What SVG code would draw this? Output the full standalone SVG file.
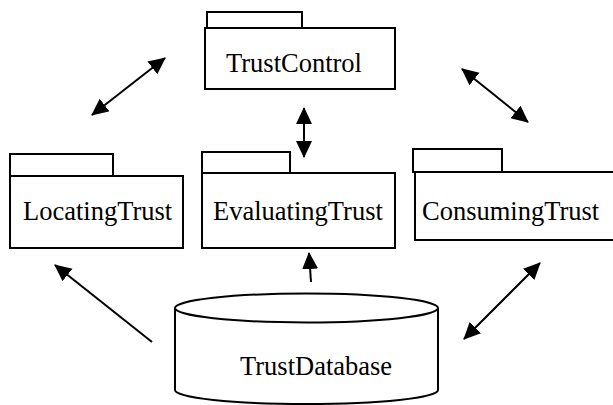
<svg xmlns="http://www.w3.org/2000/svg" width="613" height="405" viewBox="0 0 613 405">
  <style>
    .box { fill: #fff; stroke: #000; stroke-width: 2; }
    .lbl { font-family: "Liberation Serif", "Times New Roman", serif; font-size: 26.5px; fill: #000; }
    .conn { stroke: #000; stroke-width: 2; fill: none; marker-end: url(#head); }
    .both { marker-start: url(#head); }
  </style>
  <defs>
    <marker id="head" markerUnits="userSpaceOnUse" markerWidth="20" markerHeight="18" refX="16" refY="8" orient="auto-start-reverse">
      <path d="M0,0 L17,8 L0,16 Z" fill="#000"/>
    </marker>
  </defs>

  <rect width="613" height="405" fill="#fff"/>

  <g id="TrustControl">
    <rect class="box" x="207" y="12" width="95" height="16"/>
    <rect class="box" x="205" y="28" width="190" height="61"/>
    <text class="lbl" x="226" y="72">TrustControl</text>
  </g>

  <g id="LocatingTrust">
    <rect class="box" x="10" y="154" width="103" height="22"/>
    <rect class="box" x="10" y="176" width="173" height="72"/>
    <text class="lbl" x="23" y="220">LocatingTrust</text>
  </g>

  <g id="EvaluatingTrust">
    <rect class="box" x="202" y="152" width="88" height="21"/>
    <rect class="box" x="202" y="173" width="193" height="75"/>
    <text class="lbl" x="213" y="220">EvaluatingTrust</text>
  </g>

  <g id="ConsumingTrust">
    <rect class="box" x="413" y="149" width="89" height="23"/>
    <rect class="box" x="415" y="172" width="210" height="68"/>
    <text class="lbl" x="422" y="220">ConsumingTrust</text>
  </g>

  <g id="TrustDatabase">
    <path class="box" d="M175,308 L175,390 A131.5,14 0 0 0 438,390 L438,308"/>
    <ellipse class="box" cx="306.5" cy="308" rx="131.5" ry="14.5"/>
    <text class="lbl" x="240" y="375">TrustDatabase</text>
  </g>

  <g id="connectors">
    <line class="conn both" x1="92" y1="115" x2="165" y2="58"/>
    <line class="conn both" x1="462" y1="69" x2="528" y2="122"/>
    <line class="conn both" x1="304" y1="108" x2="304" y2="157"/>
    <line class="conn" x1="311" y1="282" x2="309" y2="253"/>
    <line class="conn" x1="152" y1="342" x2="55" y2="265"/>
    <line class="conn both" x1="464" y1="339" x2="540" y2="263"/>
  </g>
</svg>
